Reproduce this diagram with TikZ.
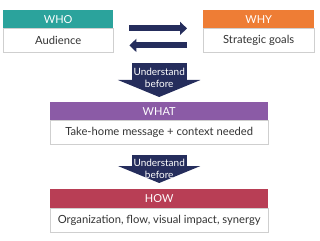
\documentclass[tikz,border=0pt]{standalone}
\usepackage{fontspec}
\setmainfont{Lato}
\usetikzlibrary{arrows.meta,positioning}
\definecolor{whoC}{HTML}{2BA39C}
\definecolor{whyC}{HTML}{EE7D35}
\definecolor{whatC}{HTML}{8B5BA6}
\definecolor{howC}{HTML}{B83E55}
\definecolor{navy}{HTML}{252D5C}
\definecolor{boxline}{HTML}{CFCFCF}
\definecolor{bodytext}{HTML}{333333}

\tikzset{
 headbox/.style={fill=#1,text=white,inner sep=0pt,minimum height=18pt,font=\fontsize{11}{13}\selectfont},
 bodybox/.style={draw=boxline,fill=white,text=bodytext,inner sep=0pt,minimum height=24pt,font=\fontsize{11.2}{13}\selectfont},
 swap/.style={draw=navy,line width=6pt,-{Triangle[length=7pt,width=13pt]}},
 bigdown/.style={draw=navy,line width=55pt,-{Triangle[length=17pt,width=82pt]}},
 cue/.style={text=white,align=center,inner sep=0pt,font=\fontsize{10}{11.5}\selectfont},
}

\begin{document}
\begin{tikzpicture}[x=1pt,y=-1pt]
\useasboundingbox (0,0) rectangle (320,240);
% top row
\node[headbox=whoC,minimum width=110pt,anchor=north west] (whohead) at (3,10) {WHO};
\node[bodybox,minimum width=110pt,below=0pt of whohead] (whobody) {Audience};
\node[headbox=whyC,minimum width=111pt,anchor=north west] (whyhead) at (203,10) {WHY};
\node[bodybox,minimum width=111pt,below=0pt of whyhead] (whybody) {Strategic goals};
\draw[swap] ([xshift=16pt]whobody.north east) -- ([xshift=-16pt]whybody.north west);
\draw[swap] ([shift={(-16pt,-17pt)}]whybody.north west) -- ([shift={(16pt,-17pt)}]whobody.north east);
% what
\node[headbox=whatC,minimum width=218pt,anchor=north west] (whathead) at (50,102) {WHAT};
\node[bodybox,minimum width=218pt,below=0pt of whathead] (whatbody) {Take-home message + context needed};
\coordinate (start1) at (whathead.north |- 0,63);
\draw[bigdown] (start1) -- ([yshift=5pt]whathead.north);
\node[cue] (cue1) at ([yshift=-15pt]start1) {Understand\\before};
% how
\node[headbox=howC,minimum width=218pt,minimum height=19pt,anchor=north west] (howhead) at (50,189) {HOW};
\node[bodybox,minimum width=218pt,below=0pt of howhead] (howbody) {Organization, flow, visual impact, synergy};
\coordinate (start2) at ([yshift=-10pt]whatbody.south);
\draw[bigdown] (start2) -- ([yshift=6pt]howhead.north);
\node[cue] (cue2) at ([yshift=-14pt]start2) {Understand\\before};
\end{tikzpicture}
\end{document}
